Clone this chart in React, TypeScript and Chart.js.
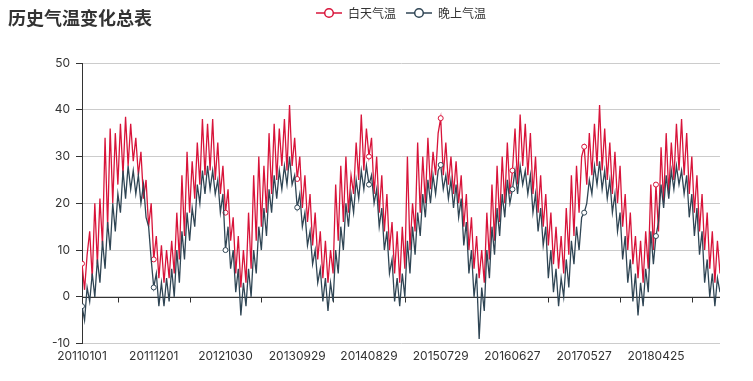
import React, { useEffect, useRef } from 'react';
import { Chart, registerables } from 'chart.js';

Chart.register(...registerables);

const chartTitle = '历史气温变化总表';
const seriesNames = ['白天气温', '晚上气温'];
const seriesColors = ['#d8143a', '#2f4554'];
const tickLabels = ['20110101', '20111201', '20121030', '20130929', '20140829', '20150729', '20160627', '20170527', '20180425'];
const samplesPerLabel = 28;
const yMin = -10;
const yMax = 50;
const yStep = 10;

const dayTemps = [
  7.1, 1.5, 9, 14, 4, 20, 7, 21, 11, 34,
  15, 36, 20, 35, 24, 37, 26, 38.5, 28, 37,
  29, 34, 26, 31, 21, 25, 15, 20, 8, 13,
  4, 11, 3, 10, 4, 12, 5, 18, 8, 26,
  13, 31, 18, 29, 21, 33, 24, 38, 26, 37,
  27, 38, 25, 33, 22, 28, 18, 23, 12, 17,
  5, 13, 2, 10, 3, 18, 6, 26, 12, 30,
  15, 28, 18, 35, 22, 37, 25, 36, 28, 38,
  27, 41, 28, 34, 25.2, 30, 19, 26, 16, 22,
  11, 18, 8, 14, 4, 12, 3, 10, 5, 24,
  12, 28, 16, 30, 18, 26, 22, 33, 25, 39,
  27, 36, 30, 34, 22, 30, 18, 26, 14, 22,
  10, 16, 5, 14, 3, 15, 6, 30, 10, 20,
  14, 33, 18, 30, 20, 34, 23, 31, 26, 35,
  38.2, 26, 33, 24, 30, 22, 29, 20, 26, 15,
  22, 10, 17, 6, 13, 4, 10, 3, 18, 8,
  24, 12, 28, 16, 30, 20, 33, 22, 27, 36,
  24, 39, 28, 37, 26, 35, 22, 30, 18, 26,
  15, 22, 11, 18, 7, 15, 6, 13, 5, 19,
  9, 26, 13, 28, 18, 30, 32.1, 24, 35, 26,
  37, 28, 41, 27, 36, 25, 33, 22, 31, 20,
  28, 15, 22, 10, 18, 7, 13, 4, 12, 3,
  14, 6, 24, 10, 24, 14, 32, 20, 35, 22,
  33, 25, 37, 27, 38, 26, 35, 22, 30, 18,
  26, 14, 22, 10, 18, 6, 14, 3, 12, 5,
];

const nightTemps = [
  -2, -5, 2, -1, 5, 0, 8, 3, 12, 6,
  16, 10, 20, 14, 22, 18, 27, 21, 28, 23,
  27, 22, 26, 20, 24, 17, 15, 8, 2, 5,
  -2, 3, -2, 4, -1, 6, 0, 10, 3, 14,
  8, 18, 12, 19, 15, 24, 20, 27, 22, 28,
  23, 27, 22, 25, 18, 22, 10, 15, 6, 10,
  1, 6, -4, 3, -2, 6, 0, 10, 5, 15,
  10, 19, 13, 23, 18, 26, 21, 27, 23, 28,
  24, 30, 24, 26, 19.1, 22, 15, 18, 11, 14,
  7, 10, 3, 6, -1, 4, -3, 3, -1, 10,
  5, 15, 10, 20, 15, 22, 18, 25, 21, 27,
  23, 28, 24, 26, 20, 23, 15, 19, 10, 14,
  5, 8, -1, 4, -2, 5, 0, 12, 5, 15,
  9, 18, 13, 22, 17, 25, 20, 26, 22, 27,
  28.2, 23, 26, 21, 25, 19, 24, 17, 21, 11,
  16, 5, 10, 0, 5, -9, 2, -3, 10, 4,
  15, 9, 19, 13, 22, 17, 25, 20, 23, 27,
  22, 28, 24, 27, 22, 26, 18, 22, 14, 19,
  11, 15, 4, 10, 1, 6, -2, 4, 0, 8,
  2, 12, 7, 15, 10, 17, 18, 20, 25, 22,
  28, 24, 29, 23, 27, 21, 25, 18, 22, 14,
  18, 8, 13, 3, 8, -1, 5, -4, 3, -2,
  6, 1, 14, 7, 13, 16, 24, 19, 26, 21,
  27, 23, 28, 24, 27, 22, 26, 17, 22, 13,
  19, 9, 14, 3, 8, 0, 5, -2, 4, 1,
];

const FONT = "Inter, 'Liberation Sans', 'Noto Sans CJK SC', sans-serif";
const CJK_FONT = "'Noto Sans CJK SC', 'Liberation Sans', sans-serif";

function makeLegendIcon(color: string): HTMLCanvasElement {
  const c = document.createElement('canvas');
  c.width = 26;
  c.height = 12;
  const g = c.getContext('2d')!;
  g.strokeStyle = color;
  g.lineWidth = 1.5;
  g.beginPath();
  g.moveTo(0, 6);
  g.lineTo(26, 6);
  g.stroke();
  g.beginPath();
  g.arc(13, 6, 4.3, 0, Math.PI * 2);
  g.fillStyle = '#fff';
  g.fill();
  g.lineWidth = 1.5;
  g.stroke();
  return c;
}

const zeroAxisPlugin = {
  id: 'zeroAxis',
  beforeDatasetsDraw(chart: any) {
    const { ctx, chartArea, scales } = chart;
    const xs = scales.x;
    const ys = scales.y;
    const py = Math.round(ys.getPixelForValue(0)) + 0.5;
    ctx.save();
    ctx.strokeStyle = '#333';
    ctx.lineWidth = 1;
    ctx.beginPath();
    ctx.moveTo(chartArea.left, py);
    ctx.lineTo(chartArea.right, py);
    for (let v = samplesPerLabel / 2; v <= xs.max; v += samplesPerLabel) {
      const px = Math.round(xs.getPixelForValue(v)) + 0.5;
      ctx.moveTo(px, py);
      ctx.lineTo(px, py + 5);
    }
    ctx.stroke();
    ctx.restore();
  },
};

const legendSpacePlugin = {
  id: 'legendSpace',
  beforeInit(chart: any) {
    const legend = chart.legend;
    if (!legend) return;
    const fit = legend.fit;
    legend.fit = function () {
      fit.call(this);
      this.height = 66;
    };
  },
};

export default function App() {
  const canvasRef = useRef<HTMLCanvasElement | null>(null);

  useEffect(() => {
    const canvas = canvasRef.current;
    if (!canvas) return;
    const icons = seriesColors.map((c) => makeLegendIcon(c));
    const series = [dayTemps, nightTemps];
    const chart = new Chart(canvas, {
      type: 'line',
      data: {
        datasets: series.map((values, s) => ({
          label: seriesNames[s],
          data: values.map((v, i) => ({ x: i, y: v })),
          borderColor: seriesColors[s],
          backgroundColor: seriesColors[s],
          borderWidth: 1.3,
          tension: 0,
          fill: false,
          order: s === 0 ? 1 : 0,
          pointRadius: (ctx: any) => (ctx.dataIndex % samplesPerLabel === 0 ? 2.5 : 0),
          pointBackgroundColor: '#fff',
          pointBorderColor: seriesColors[s],
          pointBorderWidth: 1,
        })),
      },
      options: {
        responsive: false,
        animation: false,
        devicePixelRatio: 1,
        events: [],
        layout: { padding: { left: 42, right: 33, top: -3, bottom: 11 } },
        plugins: {
          tooltip: { enabled: false },
          title: { display: false },
          legend: {
            display: true,
            position: 'top',
            fullSize: false,
            labels: {
              usePointStyle: true,
              pointStyleWidth: 26,
              padding: 10,
              color: '#333',
              font: { size: 12, family: CJK_FONT },
              generateLabels: (ch: any) =>
                ch.data.datasets.map((ds: any, i: number) => ({
                  text: ds.label,
                  pointStyle: icons[i],
                  fillStyle: '#fff',
                  strokeStyle: seriesColors[i],
                  lineWidth: 0,
                  hidden: false,
                  datasetIndex: i,
                  fontColor: '#333',
                })),
            },
          },
        },
        scales: {
          x: {
            type: 'linear',
            min: 0,
            max: dayTemps.length - 1,
            grid: { display: false, drawTicks: false },
            border: { display: false },
            afterBuildTicks: (scale: any) => {
              scale.ticks = tickLabels.map((_, k) => ({ value: k * samplesPerLabel }));
            },
            ticks: {
              autoSkip: false,
              maxRotation: 0,
              minRotation: 0,
              padding: 6,
              color: '#333',
              font: { size: 12, family: FONT },
              callback: (_v: any, index: number) => tickLabels[index],
            },
          },
          y: {
            min: yMin,
            max: yMax,
            afterFit: (scale: any) => {
              scale.width = 40;
            },
            ticks: {
              stepSize: yStep,
              padding: 6,
              color: '#333',
              font: { size: 12, family: FONT },
            },
            grid: { color: '#cccccc', tickColor: '#333', tickLength: 6, drawTicks: true },
            border: { display: true, color: '#333', width: 1 },
          },
        },
      },
      plugins: [zeroAxisPlugin, legendSpacePlugin],
    } as any);
    return () => chart.destroy();
  }, []);

  return (
    <div style={{ position: 'fixed', left: 0, top: 0, width: 753, height: 381, background: '#fff' }}>
      <canvas ref={canvasRef} width={753} height={381} style={{ display: 'block' }} />
      <div
        style={{
          position: 'absolute',
          left: 8,
          top: 5,
          fontFamily: CJK_FONT,
          fontWeight: 'bold',
          fontSize: 18,
          lineHeight: '24px',
          color: '#333',
          whiteSpace: 'nowrap',
        }}
      >
        {chartTitle}
      </div>
    </div>
  );
}
